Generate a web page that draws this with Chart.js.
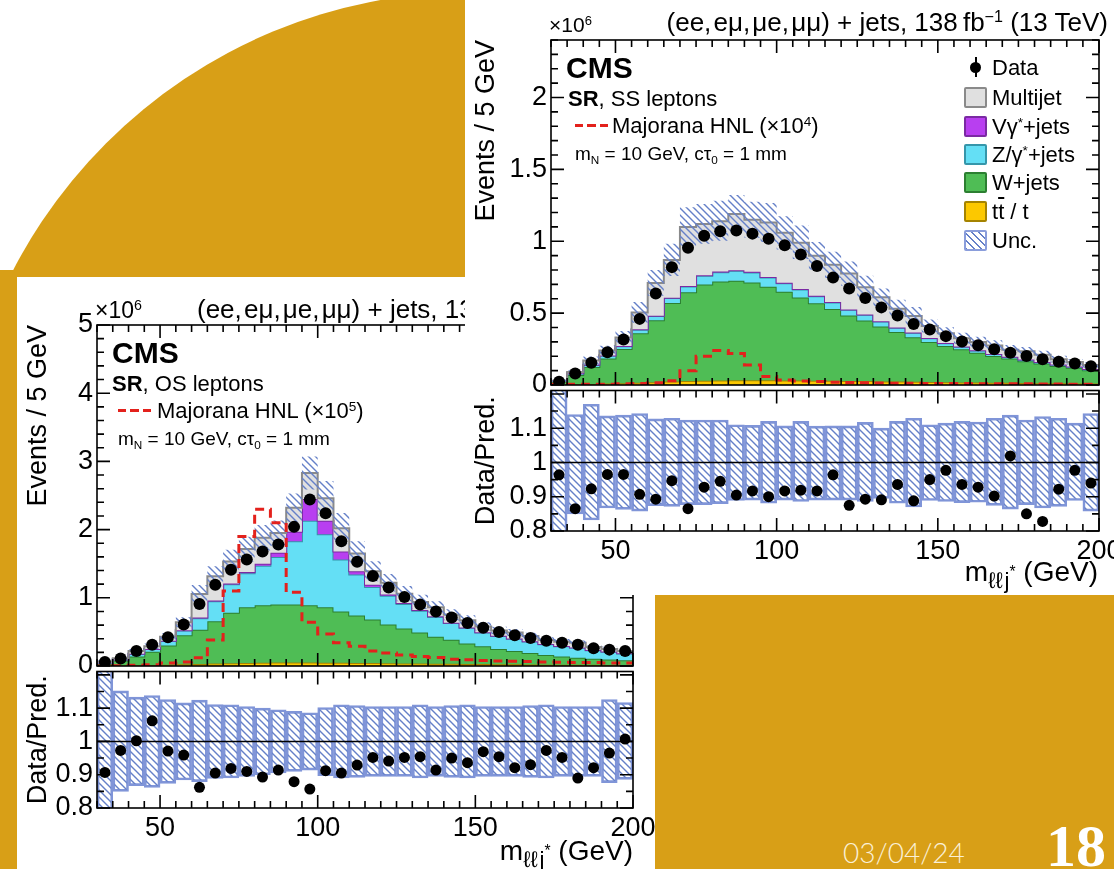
<!DOCTYPE html>
<html>
<head>
<meta charset="utf-8">
<title>m(llj*) in the signal region, OS and SS leptons</title>
<script src="https://cdn.jsdelivr.net/npm/chart.js@4.4.1/dist/chart.umd.min.js"></script>
<style>
  html, body { margin: 0; padding: 0; background: #fff; }
  #slide { position: relative; width: 1114px; height: 869px; overflow: hidden; background: #fff;
           font-family: "Liberation Sans", Arial, Helvetica, sans-serif; color: #000; }
  .gold { position: absolute; background: #d89f17; }
  .panel { position: absolute; background: #fff; overflow: hidden; }
  .panel canvas { position: absolute; }
  .t { position: absolute; white-space: nowrap; line-height: 1; }
  .t sup { font-size: 0.62em; vertical-align: 0.55em; line-height: 0; }
  .t sub { font-size: 0.62em; vertical-align: -0.3em; line-height: 0; }
  .t sub.big { font-size: 0.8em; vertical-align: -0.32em; }
  .t sub.big sup { font-size: 0.7em; vertical-align: 0.7em; }
  .dash { position: absolute; height: 3px; width: 33px;
          background: repeating-linear-gradient(90deg, #e3211c 0 8px, transparent 8px 12.5px); }
  .box { position: absolute; width: 19px; height: 17px; border: 2px solid; border-radius: 2px; }
</style>
</head>
<body>
<div id="slide">
  <div class="gold" style="left:-45px;top:-8px;width:1032px;height:1032px;border-radius:50%"></div>
  <div class="gold" style="left:0;top:270px;width:470px;height:599px"></div>

  <!-- OS leptons (left figure) -->
  <div class="panel" style="left:17px;top:277px;width:638px;height:592px">
    <canvas id="osMain" width="638" height="405" style="left:0;top:0"></canvas>
    <canvas id="osRatio" width="638" height="203" style="left:0;top:389px"></canvas>
    <div class="t" style="left:78px;top:22px;font-size:23px">×10<sup>6</sup></div>
    <div class="t" style="left:180px;top:19px;font-size:26px">(ee,&#8202;eμ,&#8202;μe,&#8202;μμ) + jets, 138&thinsp;fb<sup>−1</sup> (13 TeV)</div>
    <div class="t" style="left:95px;top:61px;font-size:30px;font-weight:bold">CMS</div>
    <div class="t" style="left:95px;top:96px;font-size:22px"><b>SR</b>, OS leptons</div>
    <div class="dash" style="left:101px;top:132px"></div>
    <div class="t" style="left:140px;top:123px;font-size:22px">Majorana HNL (×10<sup>5</sup>)</div>
    <div class="t" style="left:101px;top:152px;font-size:19px">m<sub>N</sub> = 10 GeV, cτ<sub>0</sub> = 1 mm</div>
    <div class="t" style="right:22px;top:560px;font-size:28px">m<sub class="big">ℓℓ&#8202;j<sup>*</sup></sub> (GeV)</div>
  </div>

  <!-- SS leptons (right figure) -->
  <div class="panel" style="left:465px;top:0;width:649px;height:595px">
    <canvas id="ssMain" width="649" height="401" style="left:0;top:0"></canvas>
    <canvas id="ssRatio" width="649" height="210" style="left:0;top:385px"></canvas>
    <div class="t" style="left:84px;top:14px;font-size:21px">×10<sup>6</sup></div>
    <div class="t" style="right:6px;top:9px;font-size:26px">(ee,&#8202;eμ,&#8202;μe,&#8202;μμ) + jets, 138&thinsp;fb<sup>−1</sup> (13 TeV)</div>
    <div class="t" style="left:101px;top:53px;font-size:30px;font-weight:bold">CMS</div>
    <div class="t" style="left:103px;top:88px;font-size:22px"><b>SR</b>, SS leptons</div>
    <div class="dash" style="left:110px;top:124px"></div>
    <div class="t" style="left:147px;top:115px;font-size:22px">Majorana HNL (×10<sup>4</sup>)</div>
    <div class="t" style="left:110px;top:144px;font-size:19px">m<sub>N</sub> = 10 GeV, cτ<sub>0</sub> = 1 mm</div>

    <div style="position:absolute;left:505px;top:62px;width:11px;height:11px;border-radius:50%;background:#000"></div>
    <div style="position:absolute;left:509.5px;top:57px;width:2px;height:20px;background:#000"></div>
    <div class="t" style="left:527px;top:57px;font-size:22px">Data</div>
    <div class="box" style="left:499px;top:87px;background:#e0e0e0;border-color:#8a8a8a"></div>
    <div class="t" style="left:527px;top:87px;font-size:22px">Multijet</div>
    <div class="box" style="left:499px;top:116px;background:#b83ff0;border-color:#7b2aa3"></div>
    <div class="t" style="left:527px;top:116px;font-size:22px">Vγ<sup>*</sup>+jets</div>
    <div class="box" style="left:499px;top:144px;background:#64dff5;border-color:#3596aa"></div>
    <div class="t" style="left:527px;top:144px;font-size:22px">Z/γ<sup>*</sup>+jets</div>
    <div class="box" style="left:499px;top:172px;background:#4fbd55;border-color:#2c7f31"></div>
    <div class="t" style="left:527px;top:172px;font-size:22px">W+jets</div>
    <div class="box" style="left:499px;top:201px;background:#fcc800;border-color:#a58300"></div>
    <div class="t" style="left:527px;top:201px;font-size:22px">t<span style="text-decoration:overline">t</span> / t</div>
    <div class="box" style="left:499px;top:230px;border-color:#8a9ddb;background:repeating-linear-gradient(45deg,#6580c8 0 1.4px,#fff 1.4px 5px)"></div>
    <div class="t" style="left:527px;top:230px;font-size:22px">Unc.</div>

    <div class="t" style="right:16px;top:558px;font-size:28px">m<sub class="big">ℓℓ&#8202;j<sup>*</sup></sub> (GeV)</div>
  </div>

  <div class="gold" style="left:656px;top:595px;width:458px;height:274px"></div>
  <div class="t" style="left:843px;top:838px;font-family:Lato,sans-serif;font-weight:300;font-size:28px;color:#fbf0d6">03/04/24</div>
  <div class="t" style="left:1046px;top:816px;font-family:'Liberation Serif',serif;font-weight:bold;font-size:60px;color:#fff">18</div>
</div>

<script>
const binEdges = [30, 35, 40, 45, 50, 55, 60, 65, 70, 75, 80, 85, 90, 95, 100, 105, 110, 115,
  120, 125, 130, 135, 140, 145, 150, 155, 160, 165, 170, 175, 180, 185, 190, 195, 200];

// ---- OS leptons, events in units of 10^6 ----
const osData = [0.06, 0.11, 0.22, 0.31, 0.42, 0.61, 0.91, 1.19, 1.41, 1.56, 1.68, 1.78, 2.04, 2.44, 2.24, 1.83, 1.53,
  1.32, 1.15, 1.01, 0.9, 0.8, 0.71, 0.63, 0.56, 0.5, 0.45, 0.41, 0.37, 0.34, 0.31, 0.26, 0.24, 0.22];
const osTT = [0.005, 0.008, 0.012, 0.016, 0.02, 0.025, 0.03, 0.035, 0.04, 0.045, 0.048, 0.05, 0.05, 0.05, 0.049, 0.047, 0.045,
  0.043, 0.04, 0.038, 0.036, 0.034, 0.032, 0.03, 0.028, 0.026, 0.024, 0.022, 0.02, 0.019, 0.018, 0.017, 0.016, 0.015];
const osW = [0.025, 0.072, 0.128, 0.194, 0.28, 0.425, 0.5, 0.62, 0.74, 0.815, 0.842, 0.85, 0.85, 0.84, 0.811, 0.753, 0.695,
  0.637, 0.57, 0.512, 0.454, 0.396, 0.353, 0.3, 0.262, 0.224, 0.196, 0.168, 0.14, 0.121, 0.102, 0.088, 0.079, 0.07];
const osZ = [0.02, 0.015, 0.04, 0.04, 0.07, 0.07, 0.17, 0.295, 0.42, 0.5, 0.58, 0.7, 0.93, 1.24, 1.07, 0.76, 0.6,
  0.48, 0.42, 0.36, 0.32, 0.29, 0.245, 0.23, 0.2, 0.19, 0.18, 0.17, 0.16, 0.15, 0.15, 0.125, 0.115, 0.1];
const osVg = [0, 0, 0, 0, 0.002, 0.005, 0.01, 0.01, 0.01, 0.02, 0.03, 0.06, 0.14, 0.32, 0.2, 0.12, 0.05,
  0.03, 0.02, 0.015, 0.01, 0.01, 0.005, 0.005, 0.005, 0.005, 0.004, 0.004, 0.004, 0.003, 0.003, 0.003, 0.003, 0.003];
const osMJ = [0.016, 0.018, 0.04, 0.04, 0.058, 0.115, 0.346, 0.355, 0.324, 0.334, 0.38, 0.29, 0.35, 0.38, 0.33, 0.34, 0.26,
  0.2, 0.17, 0.135, 0.12, 0.13, 0.115, 0.105, 0.085, 0.075, 0.086, 0.076, 0.056, 0.064, 0.067, 0.047, 0.037, 0.032];
const osSignal = [0, 0.005, 0.01, 0.02, 0.045, 0.06, 0.12, 0.38, 1.1, 1.9, 2.3, 2.1, 1.08, 0.64, 0.47, 0.34, 0.29,
  0.22, 0.19, 0.16, 0.14, 0.125, 0.1, 0.09, 0.08, 0.075, 0.07, 0.065, 0.06, 0.055, 0.05, 0.05, 0.045, 0.045];
const osRatio = [0.907, 0.973, 1.002, 1.062, 0.971, 0.959, 0.862, 0.905, 0.919, 0.91, 0.893, 0.914, 0.879, 0.857, 0.912, 0.905, 0.929,
  0.952, 0.941, 0.952, 0.954, 0.914, 0.95, 0.936, 0.969, 0.954, 0.921, 0.93, 0.973, 0.952, 0.89, 0.921, 0.965, 1.007];
const osUncHi = [1.25, 1.152, 1.133, 1.138, 1.126, 1.116, 1.124, 1.111, 1.11, 1.105, 1.1, 1.095, 1.09, 1.086, 1.102, 1.11, 1.108,
  1.105, 1.105, 1.105, 1.11, 1.105, 1.108, 1.11, 1.105, 1.105, 1.105, 1.108, 1.11, 1.105, 1.105, 1.105, 1.126, 1.117];
const osUncLo = [0.75, 0.85, 0.867, 0.862, 0.874, 0.884, 0.879, 0.889, 0.89, 0.895, 0.9, 0.905, 0.91, 0.914, 0.897, 0.89, 0.892,
  0.895, 0.895, 0.895, 0.89, 0.895, 0.892, 0.89, 0.895, 0.895, 0.895, 0.892, 0.89, 0.895, 0.895, 0.895, 0.876, 0.886];

// ---- SS leptons, events in units of 10^6 ----
const ssData = [0.023, 0.08, 0.154, 0.228, 0.317, 0.46, 0.637, 0.82, 0.954, 1.039, 1.069, 1.074, 1.053, 1.018, 0.972, 0.908, 0.828,
  0.747, 0.671, 0.605, 0.54, 0.483, 0.425, 0.386, 0.34, 0.303, 0.276, 0.248, 0.225, 0.202, 0.179, 0.161, 0.149, 0.131];
const ssTT = [0.002, 0.004, 0.007, 0.01, 0.013, 0.016, 0.02, 0.024, 0.027, 0.03, 0.032, 0.033, 0.033, 0.033, 0.032, 0.031, 0.03,
  0.029, 0.028, 0.027, 0.025, 0.024, 0.022, 0.021, 0.02, 0.018, 0.017, 0.016, 0.015, 0.014, 0.013, 0.012, 0.011, 0.01];
const ssW = [0.023, 0.066, 0.118, 0.175, 0.237, 0.344, 0.43, 0.546, 0.618, 0.67, 0.688, 0.692, 0.68, 0.65, 0.616, 0.578, 0.538,
  0.5, 0.455, 0.421, 0.382, 0.344, 0.311, 0.279, 0.251, 0.23, 0.208, 0.186, 0.169, 0.152, 0.136, 0.121, 0.109, 0.093];
const ssZ = [0.003, 0.01, 0.015, 0.02, 0.02, 0.025, 0.03, 0.035, 0.04, 0.06, 0.065, 0.07, 0.07, 0.065, 0.06, 0.055, 0.05,
  0.045, 0.04, 0.04, 0.035, 0.03, 0.03, 0.025, 0.02, 0.018, 0.015, 0.013, 0.012, 0.01, 0.01, 0.009, 0.008, 0.007];
const ssVg = [0, 0.001, 0.001, 0.001, 0.001, 0.002, 0.002, 0.002, 0.003, 0.003, 0.004, 0.004, 0.004, 0.004, 0.003, 0.003, 0.003,
  0.003, 0.003, 0.002, 0.002, 0.002, 0.002, 0.002, 0.002, 0.002, 0.001, 0.001, 0.001, 0.001, 0.001, 0.001, 0.001, 0.001];
const ssMJ = [0.002, 0.009, 0.029, 0.034, 0.059, 0.118, 0.228, 0.263, 0.412, 0.357, 0.351, 0.391, 0.363, 0.378, 0.349, 0.323, 0.279,
  0.26, 0.25, 0.19, 0.166, 0.13, 0.115, 0.083, 0.067, 0.057, 0.059, 0.059, 0.048, 0.058, 0.05, 0.037, 0.031, 0.029];
const ssSignal = [0.005, 0.005, 0.006, 0.006, 0.008, 0.01, 0.015, 0.03, 0.1, 0.2, 0.24, 0.22, 0.14, 0.06, 0.035, 0.028, 0.024,
  0.02, 0.018, 0.016, 0.014, 0.013, 0.012, 0.011, 0.01, 0.01, 0.009, 0.009, 0.008, 0.008, 0.007, 0.007, 0.006, 0.006];
const ssRatio = [0.964, 0.865, 0.923, 0.965, 0.965, 0.907, 0.893, 0.947, 0.865, 0.928, 0.945, 0.905, 0.917, 0.9, 0.917, 0.919, 0.917,
  0.964, 0.875, 0.893, 0.891, 0.936, 0.888, 0.95, 0.977, 0.936, 0.928, 0.902, 1.019, 0.85, 0.828, 0.922, 0.977, 0.94];
const ssUncHi = [1.25, 1.14, 1.17, 1.136, 1.138, 1.143, 1.127, 1.129, 1.124, 1.124, 1.124, 1.11, 1.108, 1.12, 1.107, 1.12, 1.106,
  1.107, 1.107, 1.117, 1.1, 1.12, 1.129, 1.11, 1.115, 1.12, 1.118, 1.129, 1.138, 1.124, 1.134, 1.129, 1.115, 1.143];
const ssUncLo = [0.75, 0.85, 0.832, 0.867, 0.863, 0.858, 0.874, 0.872, 0.877, 0.877, 0.88, 0.889, 0.89, 0.881, 0.89, 0.886, 0.89,
  0.89, 0.89, 0.886, 0.895, 0.881, 0.87, 0.889, 0.886, 0.883, 0.884, 0.875, 0.864, 0.877, 0.867, 0.872, 0.889, 0.858];

// stack order, bottom first: tt/t, W+jets, Z/gamma*+jets, Vgamma*+jets, multijet
const stackColours = [
  { fill: '#fcc800', line: '#a58300' },
  { fill: '#4fbd55', line: '#2c7f31' },
  { fill: '#64dff5', line: '#3596aa' },
  { fill: '#b83ff0', line: '#7b2aa3' },
  { fill: '#e0e0e0', line: '#8a8a8a' }
];
const FONT = '"Liberation Sans", Arial, Helvetica, sans-serif';
const tickFont = { family: FONT, size: 27 };
const titleFont = { family: FONT, size: 27 };

// step points on the bin edges, the last bin repeated on the upper edge
function steps(vals) {
  return binEdges.map((e, i) => ({ x: e, y: vals[Math.min(i, vals.length - 1)] }));
}
function centres(vals) {
  return vals.map((v, i) => ({ x: (binEdges[i] + binEdges[i + 1]) / 2, y: v }));
}
function stackUp(parts) {
  let running = parts[0].map(() => 0);
  return parts.map(p => (running = running.map((r, i) => r + p[i])));
}
function onlyMultiples(step, maxShown) {
  return scale => {
    scale.ticks = scale.ticks.filter(t =>
      Math.abs(t.value / step - Math.round(t.value / step)) < 1e-6 && t.value <= maxShown + 1e-9);
  };
}
const plainNumber = v => String(Number(v.toFixed(3)));

// keep the plot frame exactly where asked: labels may hang over the edges
function fixWidth(w) {
  return s => { s.width = w; s.paddingTop = 0; s.paddingBottom = 0; };
}
function fixHeight(h) {
  return s => { s.height = h; s.paddingLeft = 0; s.paddingRight = 0; };
}

function hatch(canvas) {
  const s = 7, c = document.createElement('canvas');
  c.width = s; c.height = s;
  const g = c.getContext('2d');
  g.strokeStyle = '#6580c8';
  g.lineWidth = 1.4;
  g.beginPath();
  g.moveTo(-1, -1); g.lineTo(s + 1, s + 1);
  g.moveTo(-1, s - 1); g.lineTo(1, s + 1);
  g.moveTo(s - 1, -1); g.lineTo(s + 1, 1);
  g.stroke();
  return canvas.getContext('2d').createPattern(c, 'repeat');
}

// CMS style frame with inward ticks on all four sides
const cmsFrame = {
  id: 'cmsFrame',
  afterDatasetDraw(chart, args, opts) {
    if (opts.unityAfter !== args.index) return;
    const { ctx, chartArea: a } = chart;
    const py = chart.scales.y.getPixelForValue(1);
    ctx.save();
    ctx.strokeStyle = '#000';
    ctx.lineWidth = 1.5;
    ctx.beginPath(); ctx.moveTo(a.left, py); ctx.lineTo(a.right, py); ctx.stroke();
    ctx.restore();
  },
  afterDatasetsDraw(chart, args, opts) {
    const { ctx, chartArea: a, scales: { x, y } } = chart;
    ctx.save();
    ctx.strokeStyle = '#000';
    ctx.lineWidth = 1.6;
    ctx.strokeRect(a.left, a.top, a.right - a.left, a.bottom - a.top);
    ctx.beginPath();
    const marks = (scale, minor, major, draw) => {
      for (let k = Math.ceil(scale.min / minor - 1e-6); k * minor <= scale.max + 1e-9; k++) {
        const v = k * minor;
        const isMajor = Math.abs(v / major - Math.round(v / major)) < 1e-6;
        draw(scale.getPixelForValue(v), isMajor ? 13 : 7);
      }
    };
    marks(x, opts.xMinor, opts.xMajor, (p, l) => {
      ctx.moveTo(p, a.bottom); ctx.lineTo(p, a.bottom - l);
      ctx.moveTo(p, a.top); ctx.lineTo(p, a.top + l);
    });
    marks(y, opts.yMinor, opts.yMajor, (p, l) => {
      ctx.moveTo(a.left, p); ctx.lineTo(a.left + l, p);
      ctx.moveTo(a.right, p); ctx.lineTo(a.right - l, p);
    });
    ctx.stroke();
    ctx.restore();
  }
};

function drawMain(id, parts, data, signal, uncLo, uncHi, yMax, yMajor, yMinor, axisWidth, padTop, padRight) {
  const canvas = document.getElementById(id);
  const tops = stackUp(parts);
  const total = tops[tops.length - 1];
  const datasets = tops.map((vals, k) => ({
    type: 'line', data: steps(vals), stepped: 'before', fill: k === 0 ? 'origin' : '-1',
    backgroundColor: stackColours[k].fill, borderColor: stackColours[k].line, borderWidth: 2,
    pointRadius: 0, order: 10 - k
  }));
  datasets.push({ type: 'line', data: steps(total.map((t, i) => t * uncLo[i])), stepped: 'before', fill: false,
    borderColor: 'transparent', borderWidth: 0, pointRadius: 0, order: 3 });
  datasets.push({ type: 'line', data: steps(total.map((t, i) => t * uncHi[i])), stepped: 'before', fill: '-1',
    backgroundColor: hatch(canvas), borderColor: 'transparent', borderWidth: 0, pointRadius: 0, order: 2 });
  datasets.push({ type: 'line', data: steps(signal), stepped: 'before', fill: false, borderColor: '#e3211c',
    borderWidth: 3, borderDash: [9, 6], pointRadius: 0, order: 1 });
  datasets.push({ type: 'scatter', data: centres(data), pointRadius: 6, pointBackgroundColor: '#000',
    pointBorderWidth: 0, order: 0 });

  return new Chart(canvas, {
    type: 'line',
    data: { datasets },
    plugins: [cmsFrame],
    options: {
      responsive: false, animation: false, events: [],
      layout: { padding: { top: padTop, right: padRight, bottom: 16, left: 0 } },
      plugins: {
        legend: { display: false }, tooltip: { enabled: false },
        cmsFrame: { xMinor: 5, xMajor: 50, yMinor: yMinor, yMajor: yMajor }
      },
      scales: {
        x: { type: 'linear', min: 30, max: 200, display: false },
        y: {
          type: 'linear', min: 0, max: yMax,
          ticks: { stepSize: yMajor, font: tickFont, color: '#000', padding: 4, callback: plainNumber },
          afterBuildTicks: onlyMultiples(yMajor, yMax),
          grid: { display: false, drawTicks: false }, border: { display: false },
          title: { display: true, text: 'Events / 5 GeV', align: 'end', color: '#000', font: titleFont,
                   padding: { top: 5, bottom: 0 } },
          afterFit: fixWidth(axisWidth)
        }
      }
    }
  });
}

function drawRatio(id, ratio, uncLo, uncHi, axisWidth, padRight, xHeight) {
  const canvas = document.getElementById(id);
  return new Chart(canvas, {
    type: 'bar',
    data: {
      datasets: [
        { type: 'scatter', data: centres(ratio), pointRadius: 5.5, pointBackgroundColor: '#000',
          pointBorderWidth: 0, order: 0 },
        { type: 'bar', data: uncLo.map((lo, i) => ({ x: (binEdges[i] + binEdges[i + 1]) / 2, y: [lo, uncHi[i]] })),
          backgroundColor: hatch(canvas), borderColor: '#8095d8', borderWidth: 2, borderSkipped: false,
          barPercentage: 1, categoryPercentage: 1, grouped: false, order: 1 }
      ]
    },
    plugins: [cmsFrame],
    options: {
      responsive: false, animation: false, events: [],
      layout: { padding: { top: 0, right: padRight, bottom: 0, left: 0 } },
      plugins: {
        legend: { display: false }, tooltip: { enabled: false },
        cmsFrame: { xMinor: 5, xMajor: 50, yMinor: 0.05, yMajor: 0.1, unityAfter: 1 }
      },
      scales: {
        x: {
          type: 'linear', min: 30, max: 200, offset: false,
          ticks: { stepSize: 50, font: tickFont, color: '#000', padding: 4, autoSkip: false, maxRotation: 0,
                   callback: plainNumber },
          afterBuildTicks: onlyMultiples(50, 200),
          grid: { display: false, drawTicks: false }, border: { display: false },
          afterFit: fixHeight(xHeight)
        },
        y: {
          type: 'linear', min: 0.8, max: 1.21,
          ticks: { stepSize: 0.1, font: tickFont, color: '#000', padding: 4, callback: plainNumber },
          afterBuildTicks: onlyMultiples(0.1, 1.15),
          grid: { display: false, drawTicks: false }, border: { display: false },
          title: { display: true, text: 'Data/Pred.', color: '#000', font: titleFont, padding: { top: 5, bottom: 0 } },
          afterFit: fixWidth(axisWidth)
        }
      }
    }
  });
}

drawMain('osMain', [osTT, osW, osZ, osVg, osMJ], osData, osSignal, osUncLo, osUncHi, 5, 1, 0.2, 80, 48, 22);
drawRatio('osRatio', osRatio, osUncLo, osUncHi, 80, 22, 61);
drawMain('ssMain', [ssTT, ssW, ssZ, ssVg, ssMJ], ssData, ssSignal, ssUncLo, ssUncHi, 2.4, 0.5, 0.1, 86, 40, 15);
drawRatio('ssRatio', ssRatio, ssUncLo, ssUncHi, 86, 15, 64);
</script>
</body>
</html>
